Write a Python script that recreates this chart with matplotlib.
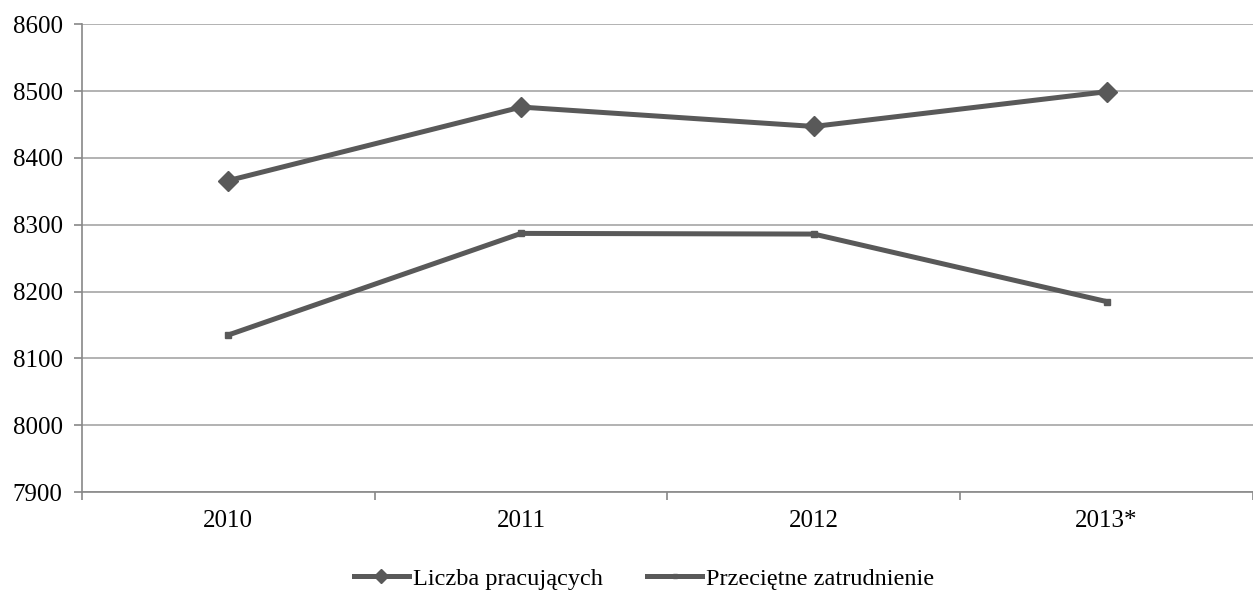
import matplotlib.pyplot as plt
from matplotlib.ticker import FixedLocator

plt.rcParams['font.family'] = ['Liberation Serif', 'DejaVu Serif']

years = ['2010', '2011', '2012', '2013*']
liczba_pracujacych = [8366, 8476, 8447, 8499]
przecietne_zatrudnienie = [8135, 8287, 8286, 8185]

line_color = '#595959'
grid_color = '#a6a6a6'

fig = plt.figure(figsize=(12.53, 5.9), dpi=100)
ax = fig.add_axes([0.0654, 0.166, 0.9346, 0.793])

x = list(range(len(years)))
ax.plot(x, liczba_pracujacych, color=line_color, linewidth=3.6,
        marker='D', markersize=10, label='Liczba pracujących', zorder=3)
ax.plot(x, przecietne_zatrudnienie, color=line_color, linewidth=3.6,
        marker='s', markersize=5, label='Przeciętne zatrudnienie', zorder=3)

ax.set_xlim(-0.5, len(years) - 0.5)
ax.set_ylim(7900, 8600)
ax.set_yticks(range(7900, 8601, 100))
ax.tick_params(axis='y', labelsize=18, length=6, color='#888888', width=1.2, pad=8)

# category labels centred, ticks on boundaries
ax.set_xticks(x)
ax.set_xticklabels(years, fontsize=18)
ax.tick_params(axis='x', which='major', length=0, pad=13)
ax.xaxis.set_minor_locator(FixedLocator([i - 0.5 for i in range(len(years) + 1)]))
ax.tick_params(axis='x', which='minor', length=6, color='#888888', width=1.2)

ax.yaxis.grid(True, color=grid_color, linewidth=1.2)
ax.set_axisbelow(True)
for side in ['top', 'right']:
    ax.spines[side].set_visible(False)
for side in ['left', 'bottom']:
    ax.spines[side].set_color('#888888')
    ax.spines[side].set_linewidth(1.2)

fig.legend(loc='lower center', bbox_to_anchor=(0.514, -0.037), ncol=2, frameon=False,
           fontsize=17.5, handlelength=2.26, handletextpad=0.16, columnspacing=1.85,
           markerscale=0.7)

fig.savefig('out.png', dpi=100)
